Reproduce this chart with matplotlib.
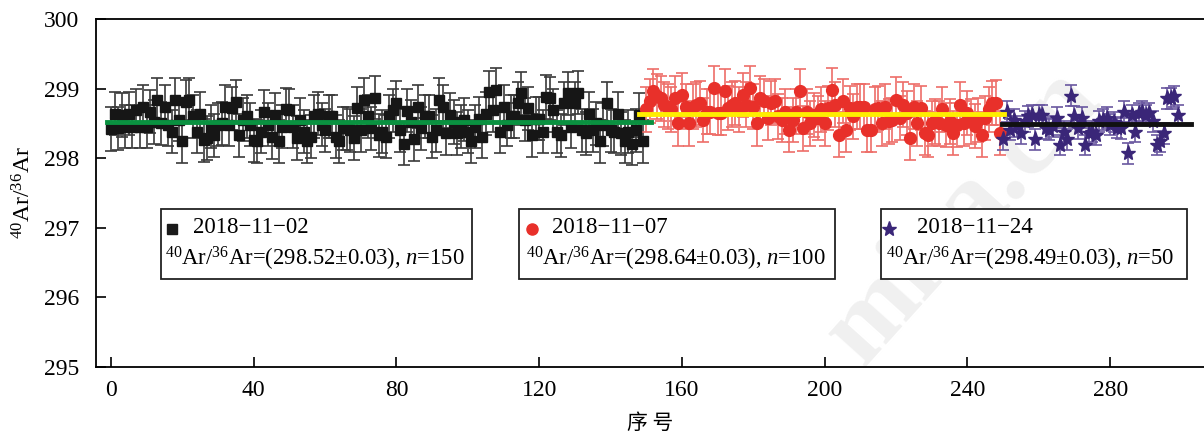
import numpy as np
import matplotlib
matplotlib.use('Agg')
import matplotlib.pyplot as plt
from matplotlib.patches import Rectangle
from matplotlib.lines import Line2D

plt.rcParams['font.family'] = ['Liberation Serif', 'DejaVu Serif']
plt.rcParams['mathtext.fontset'] = 'custom'
plt.rcParams['mathtext.rm'] = 'Liberation Serif'
plt.rcParams['mathtext.it'] = 'Liberation Serif:italic'

# 2018-11-02 (squares), n=150
black_vals = [
    298.42, 298.64, 298.43, 298.62, 298.45, 298.64, 298.45, 298.69, 298.45, 298.74,
    298.45, 298.67, 298.52, 298.84, 298.50, 298.74, 298.48, 298.38, 298.84, 298.55,
    298.24, 298.81, 298.84, 298.60, 298.38, 298.64, 298.26, 298.29, 298.45, 298.33,
    298.48, 298.50, 298.74, 298.48, 298.72, 298.81, 298.33, 298.55, 298.60, 298.48,
    298.26, 298.24, 298.38, 298.67, 298.48, 298.30, 298.62, 298.24, 298.45, 298.70,
    298.69, 298.45, 298.29, 298.55, 298.38, 298.24, 298.31, 298.60, 298.64, 298.48,
    298.40, 298.60, 298.60, 298.31, 298.24, 298.43, 298.43, 298.40, 298.29, 298.72,
    298.40, 298.84, 298.60, 298.43, 298.87, 298.33, 298.38, 298.31, 298.60, 298.69,
    298.80, 298.40, 298.21, 298.68, 298.52, 298.27, 298.74, 298.43, 298.60, 298.60,
    298.31, 298.40, 298.84, 298.74, 298.36, 298.62, 298.52, 298.36, 298.45, 298.55,
    298.38, 298.24, 298.45, 298.57, 298.31, 298.64, 298.95, 298.69, 298.98, 298.38,
    298.74, 298.48, 298.60, 298.60, 298.79, 298.93, 298.55, 298.72, 298.33, 298.57,
    298.57, 298.38, 298.88, 298.86, 298.69, 298.38, 298.33, 298.79, 298.93, 298.45,
    298.79, 298.94, 298.40, 298.36, 298.64, 298.40, 298.50, 298.24, 298.48, 298.79,
    298.40, 298.38, 298.64, 298.36, 298.24, 298.38, 298.21, 298.40, 298.62, 298.24,
]
# 2018-11-07 (circles), n=100
red_vals = [
    298.70, 298.82, 298.96, 298.89, 298.86, 298.77, 298.74, 298.70, 298.86, 298.50,
    298.91, 298.74, 298.50, 298.74, 298.77, 298.79, 298.55, 298.67, 298.67, 299.01,
    298.65, 298.65, 298.96, 298.72, 298.77, 298.79, 298.70, 298.91, 298.77, 299.01,
    298.74, 298.50, 298.86, 298.82, 298.58, 298.79, 298.82, 298.60, 298.55, 298.67,
    298.41, 298.55, 298.67, 298.96, 298.43, 298.67, 298.50, 298.62, 298.58, 298.70,
    298.50, 298.72, 298.98, 298.77, 298.34, 298.82, 298.41, 298.72, 298.60, 298.74,
    298.74, 298.74, 298.41, 298.41, 298.70, 298.72, 298.50, 298.74, 298.53, 298.55,
    298.84, 298.58, 298.77, 298.65, 298.29, 298.74, 298.50, 298.72, 298.36, 298.34,
    298.50, 298.53, 298.50, 298.70, 298.48, 298.53, 298.36, 298.48, 298.77, 298.50,
    298.65, 298.53, 298.46, 298.55, 298.34, 298.58, 298.70, 298.79, 298.80, 298.36,
]
# 2018-11-24 (stars), n=50
star_vals = [
    298.27, 298.67, 298.41, 298.55, 298.46, 298.36, 298.53, 298.60, 298.62, 298.27,
    298.62, 298.62, 298.43, 298.41, 298.46, 298.58, 298.19, 298.38, 298.27, 298.90,
    298.60, 298.43, 298.58, 298.19, 298.36, 298.38, 298.34, 298.53, 298.55, 298.58,
    298.48, 298.52, 298.44, 298.43, 298.67, 298.07, 298.62, 298.38, 298.65, 298.67,
    298.62, 298.65, 298.53, 298.19, 298.24, 298.36, 298.86, 298.86, 298.89, 298.62,
]
black_err = 0.31
red_err = 0.32
star_err = 0.15

means = [298.52, 298.64, 298.49]
dates = ['2018\u221211\u221202', '2018\u221211\u221207', '2018\u221211\u221224']
counts = [150, 100, 50]

x_black = np.arange(0, len(black_vals))
x_red = np.arange(150, 150 + len(red_vals))
x_star = np.arange(250, 250 + len(star_vals))

W, H = 1204, 434
fig = plt.figure(figsize=(W / 100, H / 100), dpi=100)
ax = fig.add_axes([96 / W, (H - 367) / H, (W - 96) / W, (367 - 19) / H])
ax.set_zorder(2)
ax.set_facecolor('none')

# faint watermark behind the plot
fig.text(0.80, 0.50, 'mica.cn', fontsize=78, color='#f0f0f0', rotation=48,
         ha='center', va='center', weight='bold', family='Liberation Serif', zorder=-5)

red = '#e8302a'
purple = '#3a2678'

ax.errorbar(x_black, black_vals, yerr=black_err, fmt='s', color='#161616', ms=7.5,
            ecolor='#3a3a3a', elinewidth=1.2, capsize=4, capthick=1.2, zorder=3)
ax.errorbar(x_red, red_vals, yerr=red_err, fmt='o', color=red, ms=8.5,
            ecolor='#ee6d68', elinewidth=1.2, capsize=4, capthick=1.2, zorder=3)
ax.errorbar(x_star, star_vals, yerr=star_err, fmt='*', color=purple, ms=11,
            ecolor='#6a58a0', elinewidth=1.2, capsize=4, capthick=1.2, zorder=3)

ax.plot([-1, 151.3], [means[0]] * 2, color='#0a9140', lw=3.5, zorder=4)
ax.plot([148, 250.3], [means[1]] * 2, color='#ffee00', lw=3.5, zorder=4)
ax.plot([249.7, 302.7], [means[2]] * 2, color='#111111', lw=3.5, zorder=4)

ax.set_xlim(-4.2, 306.3)
ax.set_ylim(295, 300)
ax.set_xticks(np.arange(0, 281, 40))
ax.set_yticks(np.arange(295, 301, 1))
ax.tick_params(direction='in', length=7, width=1.2, labelsize=17, pad=9)
ax.tick_params(axis='y', pad=12)
for s in ['left', 'bottom', 'top']:
    ax.spines[s].set_linewidth(1.3)
ax.spines['right'].set_visible(False)

ax.set_ylabel(r'$^{40}$Ar/$^{36}$Ar', fontsize=17, labelpad=6)
ax.set_xlabel('序 号', fontsize=15, family=['Noto Sans CJK SC'], labelpad=8)

# legend boxes
boxes = [(161, 472), (519, 835), (881, 1187)]
mk = [('s', '#1a1a1a', 7), ('o', red, 8), ('*', purple, 11)]
mk_x = [172, 532, 889]
txt1_x = [193, 552, 917]
txt2_x = [165, 526, 886]
for i in range(3):
    x0, x1 = boxes[i]
    fig.add_artist(Rectangle((x0 / W, 1 - 279 / H), (x1 - x0) / W, 70 / H,
                             transform=fig.transFigure, fill=True, facecolor='white',
                             edgecolor='#222222', lw=1.3, zorder=5))
    fig.add_artist(Line2D([mk_x[i] / W], [1 - 229 / H], marker=mk[i][0], color=mk[i][1],
                          ms=mk[i][2], transform=fig.transFigure, zorder=6))
    fig.text(txt1_x[i] / W, 1 - 228 / H, dates[i], fontsize=16.5, va='center', zorder=6)
    fig.text(txt2_x[i] / W, 1 - 259 / H,
             r'$^{40}$Ar/$^{36}$Ar=(%.2f±0.03), $n$=%d' % (means[i], counts[i]),
             fontsize=16.3, va='center', zorder=6)

fig.savefig('out.png', dpi=100)
